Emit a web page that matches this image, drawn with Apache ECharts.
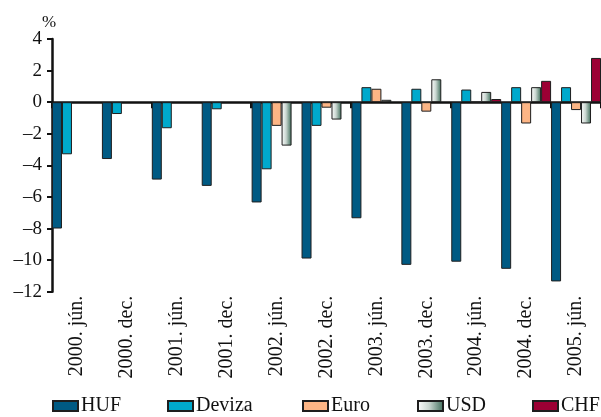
<!DOCTYPE html>
<html>
<head>
<meta charset="utf-8">
<script src="https://cdn.jsdelivr.net/npm/echarts@6/dist/echarts.min.js"></script>
<style>
html,body{margin:0;padding:0;background:#fff;}
#chart{width:601px;height:417px;}
</style>
</head>
<body>
<div id="chart"></div>
<script>
var categories = ['2000. jún.','2000. dec.','2001. jún.','2001. dec.','2002. jún.','2002. dec.','2003. jún.','2003. dec.','2004. jún.','2004. dec.','2005. jún.'];
var seriesNames = ['HUF','Deviza','Euro','USD','CHF'];
var huf    = [-8.0, -3.6, -4.9, -5.3, -6.35, -9.9, -7.35, -10.3, -10.1, -10.55, -11.35];
var deviza = [-3.3, -0.75, -1.65, -0.45, -4.25, -1.5, 0.95, 0.85, 0.8, 0.95, 0.95];
var euro   = [null, null, null, null, -1.5, -0.35, 0.85, -0.6, 0, -1.35, -0.5];
var usd    = [null, null, null, null, -2.75, -1.1, 0.15, 1.45, 0.65, 0.95, -1.35];
var chf    = [null, null, null, null, null, null, null, null, 0.2, 1.35, 2.8];
var yTicks = { min: -12, max: 4, interval: 2 };

var FONT = '"Liberation Serif", "DejaVu Serif", serif';
var chart = echarts.init(document.getElementById('chart'), null, {renderer: 'canvas'});

var usdGrad = new echarts.graphic.LinearGradient(0, 0, 1, 0, [
  {offset: 0, color: '#ffffff'},
  {offset: 0.45, color: '#c9d6d0'},
  {offset: 1, color: '#3b6b58'}
]);
var colors = ['#005a83', '#00a9cc', '#fdb585', usdGrad, '#9c0034'];
var dataSets = [huf, deviza, euro, usd, chf];
var legendLefts = [52, 167, 302, 417, 532];

var series = dataSets.map(function (d, i) {
  return {
    name: seriesNames[i],
    type: 'bar',
    xAxisIndex: 0,
    data: d,
    barGap: '0%',
    barCategoryGap: '0%',
    itemStyle: { color: colors[i], borderColor: '#1e1e1e', borderWidth: 1 },
    emphasis: { disabled: true }
  };
});

var legends = seriesNames.map(function (n, i) {
  return {
    data: [n],
    left: legendLefts[i], top: 396,
    padding: 0,
    itemWidth: 25, itemHeight: 10,
    icon: 'rect',
    selectedMode: false,
    textStyle: { fontSize: 20, fontFamily: FONT, color: '#111', padding: [0, 0, 0, -2] }
  };
});

chart.setOption({
  animation: false,
  textStyle: { fontFamily: FONT },
  grid: { left: 52, top: 39, width: 550, height: 252.7, containLabel: false },
  graphic: [{
    type: 'text', left: 42, top: 14,
    style: { text: '%', fontSize: 17, fontFamily: FONT, fill: '#111' }
  }],
  legend: legends,
  xAxis: [{
    type: 'category',
    data: categories,
    position: 'bottom',
    axisLine: { onZero: true, lineStyle: { color: '#111', width: 2.5 } },
    axisTick: { show: true, length: 6, lineStyle: { color: '#111', width: 3 } },
    axisLabel: { show: false },
    splitLine: { show: false }
  }, {
    type: 'category',
    data: categories,
    position: 'bottom',
    axisLine: { show: false, onZero: false },
    axisTick: { show: false },
    axisLabel: { rotate: 90, fontSize: 20, fontFamily: FONT, color: '#111', margin: 4, interval: 0 },
    splitLine: { show: false }
  }],
  yAxis: {
    type: 'value',
    min: yTicks.min, max: yTicks.max, interval: yTicks.interval,
    axisLine: { show: true, lineStyle: { color: '#111', width: 2.5 } },
    axisTick: { show: true, length: 5, lineStyle: { color: '#111', width: 2 } },
    axisLabel: {
      fontSize: 19, fontFamily: FONT, color: '#111', margin: 10,
      formatter: function (v) { return String(v).replace('-', '\u2013'); }
    },
    splitLine: { show: false }
  },
  series: series
});
</script>
</body>
</html>
